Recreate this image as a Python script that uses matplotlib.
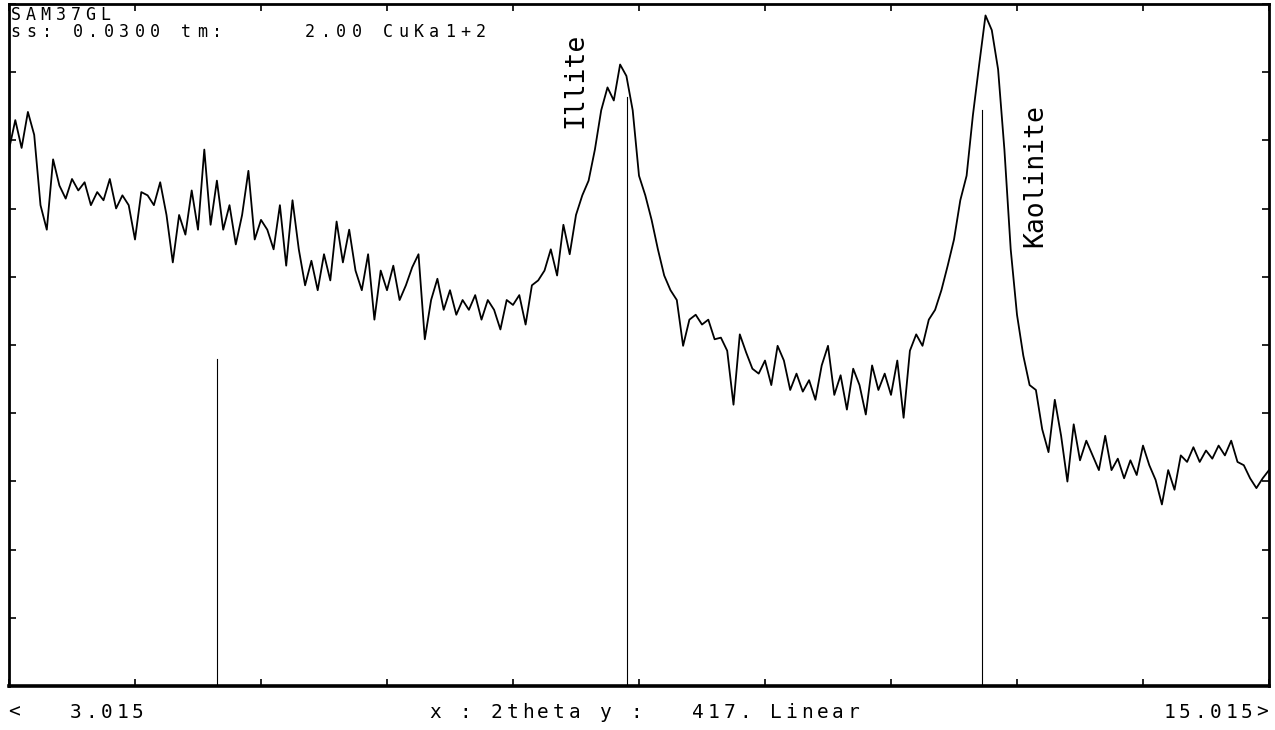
import numpy as np
import matplotlib
matplotlib.use("Agg")
import matplotlib.pyplot as plt

# scan: 3.015 -> 15.015 deg 2theta, every 0.06 deg
x_start = 3.015
x_end = 15.015
x_step = 0.06
y_full = 417.0

counts = [
    328, 346, 329, 351, 337, 294, 279, 322, 306, 298,
    310, 303, 308, 294, 302, 297, 310, 292, 300, 294,
    273, 302, 300, 294, 308, 288, 259, 288, 276, 303,
    279, 328, 282, 309, 279, 294, 270, 288, 315, 273,
    285, 279, 267, 294, 257, 297, 267, 245, 260, 242,
    264, 248, 284, 259, 279, 254, 242, 264, 224, 254,
    242, 257, 236, 245, 256, 264, 212, 236, 249, 230,
    242, 227, 236, 230, 239, 224, 236, 230, 218, 236,
    233, 239, 221, 245, 248, 254, 267, 251, 282, 264,
    288, 300, 309, 328, 352, 366, 358, 380, 373, 352,
    312, 300, 285, 267, 251, 242, 236, 208, 224, 227,
    221, 224, 212, 213, 205, 172, 215, 204, 194, 191,
    199, 184, 208, 199, 181, 191, 180, 187, 175, 196,
    208, 178, 190, 169, 194, 184, 166, 196, 181, 191,
    178, 199, 164, 205, 215, 208, 224, 230, 242, 257,
    273, 297, 312, 349, 380, 410, 401, 377, 328, 267,
    227, 202, 184, 181, 157, 143, 175, 153, 125, 160,
    138, 150, 141, 132, 153, 132, 139, 127, 138, 129,
    147, 135, 126, 111, 132, 120, 141, 137, 146, 137,
    144, 139, 147, 141, 150, 137, 135, 127, 121, 127,
    132,
]

# reference sticks
stick_pos = [5.0, 8.9, 12.28]
stick_height = [200, 360, 352]

# phase labels
phase_names = ["Illite", "Kaolinite"]
phase_x = [8.405, 12.786]
phase_y = [370, 312]

header_lines = ["SAM37GL", "ss: 0.0300 tm:     2.00 CuKa1+2"]
footer_left = "<   3.015"
footer_mid = "x : 2theta y :   417. Linear"
footer_right = "15.015>"

W, H = 1275, 730
mono = "DejaVu Sans Mono"


def term_text(fig, x_px, y_px, s, pitch=15.5, size=14):
    # fixed pitch like the old terminal font
    for k, ch in enumerate(s):
        if ch == " ":
            continue
        fig.text((x_px + (k + 0.5) * pitch) / W, 1 - y_px / H, ch,
                 ha="center", va="center", family=mono, fontsize=size)


two_theta = x_start + x_step * np.arange(len(counts))

fig = plt.figure(figsize=(W / 100, H / 100), dpi=100)
ax = fig.add_axes([9 / W, 1 - 686 / H, 1260 / W, 682 / H])

ax.plot(two_theta, counts, color="black", lw=1.3)
for p, h in zip(stick_pos, stick_height):
    ax.plot([p, p], [0, h], color="black", lw=0.8)

for name, px, py in zip(phase_names, phase_x, phase_y):
    ax.text(px, py, name, rotation=90, ha="center", va="center",
            family=mono, fontsize=19)

ax.set_xlim(x_start, x_end)
ax.set_ylim(0, y_full)
ax.set_xticks(np.linspace(x_start, x_end, 11))
ax.set_yticks(np.linspace(0, y_full, 11))
ax.tick_params(direction="in", length=5, width=1.2, top=True, right=True,
               labelbottom=False, labelleft=False)
for s in ax.spines.values():
    s.set_linewidth(2)
ax.spines["bottom"].set_linewidth(2.6)

term_text(fig, 8, 15, header_lines[0], pitch=15, size=12)
term_text(fig, 8, 32, header_lines[1], pitch=15.5, size=12)
term_text(fig, 6, 712, footer_left)
term_text(fig, 427, 712, footer_mid)
term_text(fig, 1270 - 15.5 * len(footer_right), 712, footer_right)

fig.savefig("out.png", dpi=100)
